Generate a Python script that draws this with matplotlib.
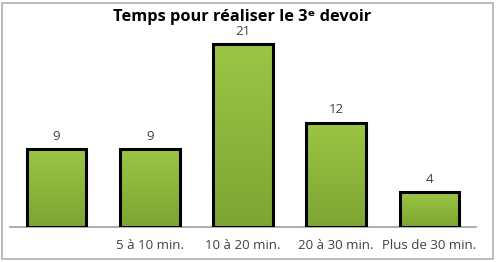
import numpy as np
import matplotlib.pyplot as plt
from matplotlib.patches import Rectangle
from matplotlib.colors import LinearSegmentedColormap

# Donnees
categories = ["", "5 à 10 min.", "10 à 20 min.", "20 à 30 min.", "Plus de 30 min."]
valeurs = [9, 9, 21, 12, 4]
titre = "Temps pour réaliser le 3ᵉ devoir"

plt.rcParams['font.family'] = ['Open Sans', 'DejaVu Sans']

fig = plt.figure(figsize=(4.98, 2.62), dpi=100)
ax = fig.add_axes([0.020, 0.1336, 0.936, 0.752])

x = np.arange(len(categories))
bars = ax.bar(x, valeurs, width=0.64, color='none', edgecolor='black', linewidth=2.2, zorder=3)

# Degrade vert dans chaque barre
vert = LinearSegmentedColormap.from_list("vert", ["#7ea532", "#9cc545"])
grad = np.linspace(0, 1, 100).reshape(-1, 1)
for b in bars:
    x0 = b.get_x()
    x1 = x0 + b.get_width()
    h = b.get_height()
    im = ax.imshow(grad, cmap=vert, origin='lower', aspect='auto',
                   extent=(x0, x1, 0, h), zorder=2)
    im.set_clip_path(b)
    ax.text(b.get_x() + b.get_width() / 2, h + 0.7, str(int(h)),
            ha='center', va='bottom', fontsize=9.5, color='#404040')

ax.set_xlim(-0.5, len(categories) - 0.5)
ax.set_ylim(0, 22.64)
ax.set_xticks(x)
ax.set_xticklabels(categories, fontsize=9.5, color='#404040')
ax.tick_params(axis='x', length=0, pad=9)
ax.set_yticks([])
for s in ['top', 'right', 'left']:
    ax.spines[s].set_visible(False)
ax.spines['bottom'].set_color('#a0a0a0')
ax.spines['bottom'].set_linewidth(1.2)

fig.text(0.487, 0.935, titre, ha='center', va='center', fontsize=11.8,
         fontweight='bold', color='black')

# Cadre autour du graphique
fig.patches.append(Rectangle((0.005, 0.012), 0.985, 0.975, transform=fig.transFigure,
                             fill=False, edgecolor='#b0b0b0', linewidth=1.2))

fig.savefig("out.png", dpi=100)
